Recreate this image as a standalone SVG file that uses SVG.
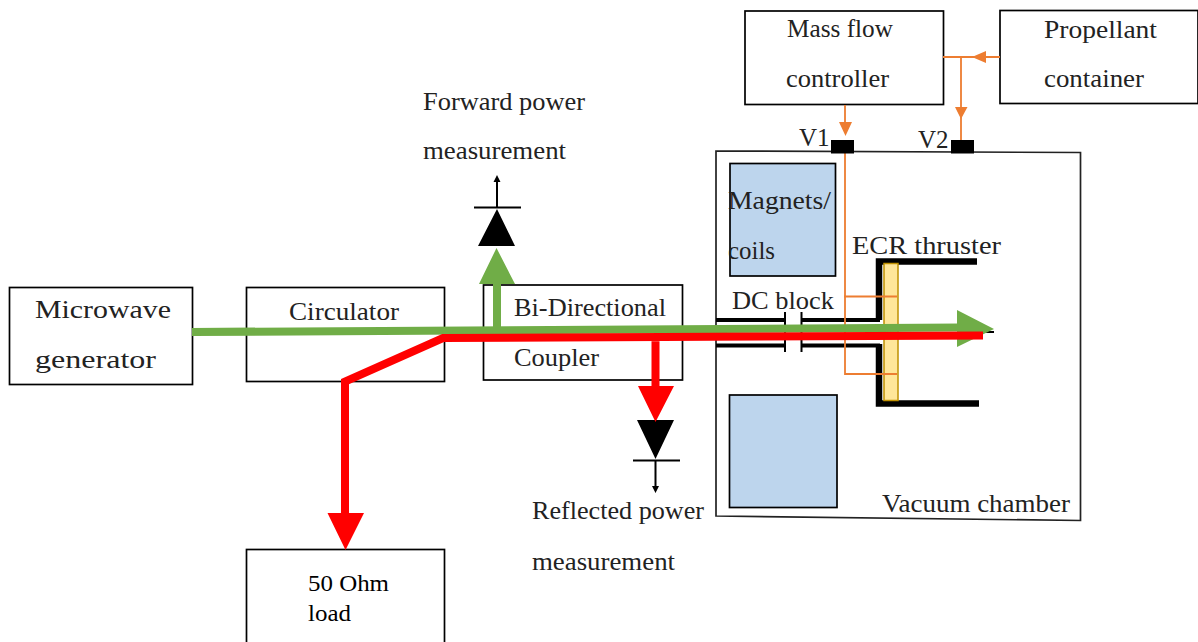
<svg xmlns="http://www.w3.org/2000/svg" width="1198" height="642" viewBox="0 0 1198 642">
<style>
.b{fill:#fff;stroke:#000;stroke-width:1.7}
.c{fill:#bdd5ed;stroke:#000;stroke-width:1.7}
text{font-family:"Liberation Serif","Times New Roman",serif;font-size:25px;fill:#222}
.o{fill:none;stroke:#ed7d31;stroke-width:1.800}
.of{fill:#ed7d31}
.k{fill:none;stroke:#000;stroke-width:2}
.kk{fill:none;stroke:#000;stroke-width:4}
.g{fill:none;stroke:#70ad47;stroke-width:8}
.r{fill:none;stroke:#f00;stroke-width:8}
</style>
<g id="microwave-generator"><rect class="b" x="9.500" y="287.500" width="183" height="97"/><text x="35" y="318" textLength="136" lengthAdjust="spacingAndGlyphs">Microwave</text><text x="35" y="368" textLength="121" lengthAdjust="spacingAndGlyphs">generator</text></g>
<g id="circulator"><rect class="b" x="246.500" y="287.500" width="198" height="94"/><text x="289" y="320" textLength="110" lengthAdjust="spacingAndGlyphs">Circulator</text></g>
<g id="coupler"><rect class="b" x="483.500" y="285" width="199" height="95"/><text x="514" y="316" textLength="152" lengthAdjust="spacingAndGlyphs">Bi-Directional</text><text x="514" y="366" textLength="85" lengthAdjust="spacingAndGlyphs">Coupler</text></g>
<g id="load"><rect class="b" x="246.500" y="549.500" width="198" height="100"/><text x="308" y="591" style="fill:#000;font-size:24px" textLength="81" lengthAdjust="spacingAndGlyphs">50 Ohm</text><text x="308" y="621" style="fill:#000;font-size:24px" textLength="43" lengthAdjust="spacingAndGlyphs">load</text></g>
<g id="mass-flow-controller"><rect class="b" x="745" y="11" width="198.500" height="93.500"/><text x="787" y="37" textLength="106" lengthAdjust="spacingAndGlyphs">Mass flow</text><text x="786" y="87" textLength="103" lengthAdjust="spacingAndGlyphs">controller</text></g>
<g id="propellant-container"><rect class="b" x="1000" y="10.500" width="198" height="93"/><text x="1044" y="38" textLength="113" lengthAdjust="spacingAndGlyphs">Propellant</text><text x="1044" y="87" textLength="100" lengthAdjust="spacingAndGlyphs">container</text></g>
<g id="vacuum-chamber"><path d="M716 151 L1080.500 152.500 V520.500 L716 516 Z" fill="none" stroke="#222" stroke-width="1.700"/><text x="882" y="512" textLength="188" lengthAdjust="spacingAndGlyphs">Vacuum chamber</text></g>
<g id="magnets-top"><rect class="c" x="730" y="163.500" width="105.500" height="112.500"/><text x="728" y="209" textLength="103" lengthAdjust="spacingAndGlyphs">Magnets/</text><text x="728" y="259" textLength="47" lengthAdjust="spacingAndGlyphs">coils</text></g>
<g id="magnets-bottom"><rect class="c" x="729.500" y="395" width="107.500" height="112.500"/></g>
<g id="thruster"><path d="M977 261.500 H879 V320 M879 344 V403.500 H979" fill="none" stroke="#000" stroke-width="6.500"/><rect x="884" y="263.500" width="14" height="137" fill="#ffe699" stroke="#bf9000" stroke-width="1.500"/><text x="852" y="254" textLength="149" lengthAdjust="spacingAndGlyphs">ECR thruster</text></g>
<g id="dc-block"><text x="732" y="309" textLength="102" lengthAdjust="spacingAndGlyphs">DC block</text></g>
<g id="labels"><text x="423" y="110" textLength="162" lengthAdjust="spacingAndGlyphs">Forward power</text><text x="423" y="159" textLength="143" lengthAdjust="spacingAndGlyphs">measurement</text><text x="532" y="519" textLength="172" lengthAdjust="spacingAndGlyphs">Reflected power</text><text x="532" y="570" textLength="143" lengthAdjust="spacingAndGlyphs">measurement</text><text x="799" y="146">V1</text><text x="918" y="148">V2</text></g>
<g id="connectors">
<path class="kk" d="M716 320 H785 M716 345.500 H785 M801.500 320 H880 M801.500 345.500 H880" stroke-width="3"/>
<path class="k" d="M785 312 V352 M801.500 312 V352"/>
<path class="o" d="M845 105 V125 M845 140 V374 H897 M844 296.500 H897 M943 57 H1000 M961 57 V140"/>
<path class="of" d="M839 122 H852 L845.500 136 Z M955 107 H967.500 L961 119 Z M972 57 L986 51 V63 Z"/>
<path class="k" d="M474 207.500 H521 M497 207 V180 M633 460.500 H680 M655.500 460 V488"/>
<path d="M497 175 L493.500 182 H500.500 Z M655.500 493 L652 486 H659 Z" fill="#000"/>
<path d="M497 209 L515 246 H478 Z M655.500 459 L637 420 H674 Z" fill="#000"/>
<path class="k" d="M970 332 H994"/>
<path class="g" d="M192 332 L960 327.500 M497 330 V283"/>
<path d="M496.500 248 L515 284 H479 Z M957 310 L994 329 L957 347 Z" fill="#70ad47"/>
<path class="r" d="M983 335.500 L443 338 L345 381.500 V515 M655.500 338 V388"/>
<path d="M327.500 513 H364 L345.500 550 Z M638 386 H674 L655.500 422 Z" fill="#f00"/>
</g>
<g id="valves"><rect x="831" y="140" width="23" height="13.500" fill="#000"/><rect x="951" y="140" width="23" height="13.500" fill="#000"/></g>
</svg>
